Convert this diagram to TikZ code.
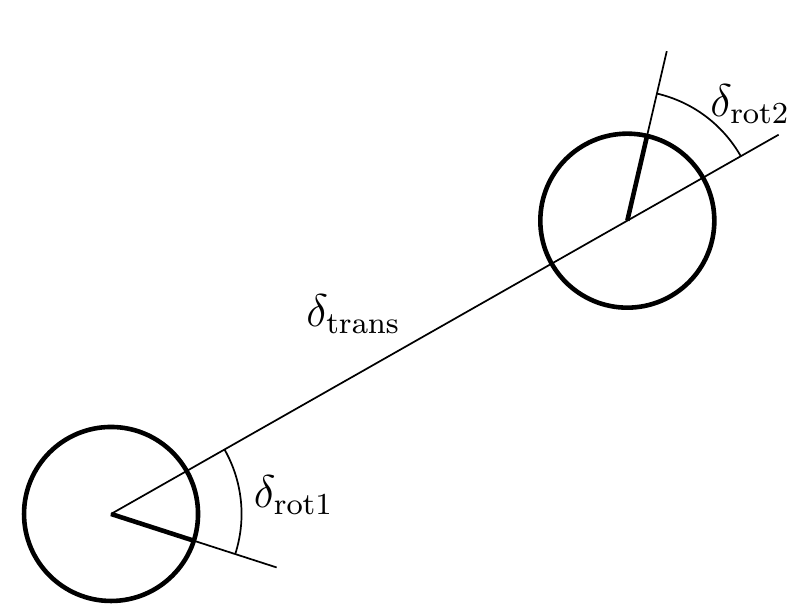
\documentclass[tikz,border=0pt]{standalone}
\usetikzlibrary{calc}
\tikzset{
  robot/.style={draw,circle,line width=1.2pt,minimum size=1.6cm,inner sep=0pt},
  heading/.style={line width=1.2pt},
  angle label/.style={font=\large},
}
\begin{document}
\begin{tikzpicture}[line width=0.45pt]
      \useasboundingbox (-1.021,-0.938) rectangle (6.436,4.726);
      \coordinate (p1) at (0,0);
      \coordinate (p2) at (29.6:5.46);
      \node[robot] (r1) at (p1) {};
      \node[robot] (r2) at (p2) {};
      \coordinate (h1) at (-17.9:1.6);
      \coordinate (h2) at ($(p2)+(76.9:1.6)$);
      \coordinate (e) at ($(p2)+(29.6:1.6)$);
      \begin{scope}[-]
        \draw (p1) to (e);
        \draw (p1) to (h1);
        \draw (p2) to (h2);
        \draw[heading] (p1) to ($(p1)+(-17.9:0.8)$);
        \draw[heading] (p2) to ($(p2)+(76.9:0.8)$);
        \draw ($(p1)+(-17.9:1.2)$) arc (-17.9:29.6:1.2);
        \draw ($(p2)+(29.6:1.2)$) arc (29.6:76.9:1.2);
      \end{scope}
      \node[angle label] (rot1) at (1.68,0.17) {$\delta_{\mathrm{rot1}}$};
      \node[angle label] (rot2) at ($(p2)+(1.13,1.07)$) {$\delta_{\mathrm{rot2}}$};
      \node[angle label] (trans) at (2.23,1.84) {$\delta_{\mathrm{trans}}$};
    \end{tikzpicture}
\end{document}
